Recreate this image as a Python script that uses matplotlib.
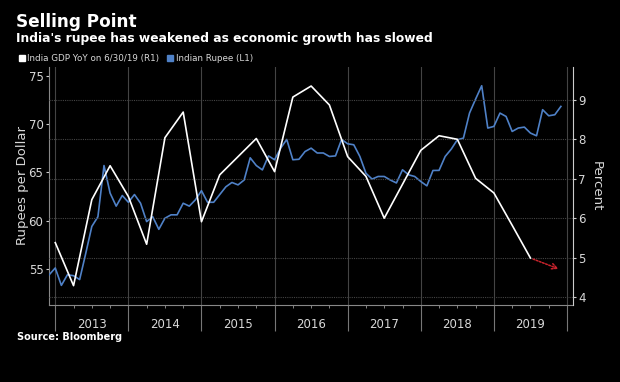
import matplotlib
matplotlib.use("Agg")
import matplotlib.pyplot as plt
import matplotlib.transforms as mtransforms
from matplotlib.lines import Line2D
import numpy as np

# Indian rupee per dollar, monthly from Nov 2012 to Nov 2019 (left axis)
rupee = [54.4, 55.1, 53.3, 54.4, 54.3, 53.9, 56.6, 59.4, 60.4, 65.7, 62.85, 61.5,
         62.6, 61.9, 62.7, 61.8, 59.9, 60.4, 59.1, 60.25, 60.6, 60.6, 61.8, 61.5,
         62.15, 63.1, 61.9, 61.9, 62.7, 63.5, 63.95, 63.7, 64.2, 66.5, 65.7, 65.25,
         66.7, 66.3, 67.5, 68.4, 66.3, 66.35, 67.15, 67.5, 67.0, 67.0, 66.64, 66.7,
         68.4, 67.95, 67.85, 66.64, 64.9, 64.3, 64.57, 64.57, 64.2, 63.9, 65.26, 64.74,
         64.57, 64.05, 63.6, 65.19, 65.2, 66.64, 67.4, 68.37, 68.54, 71.13, 72.58, 73.96,
         69.58, 69.75, 71.13, 70.78, 69.23, 69.58, 69.68, 69.06, 68.78, 71.48, 70.85, 70.96,
         71.82]
rupee_dates = 2012 + (11 + np.arange(len(rupee))) / 12

# India GDP YoY, quarterly, Q4 2012 to Q2 2019 (right axis)
gdp = [5.38, 4.29, 6.47, 7.33, 6.55, 5.34, 8.04, 8.69, 5.91, 7.10, 7.56, 8.02,
       7.18, 9.07, 9.35, 8.87, 7.56, 7.06, 6.00, 6.86, 7.72, 8.09, 8.00, 7.01,
       6.64, 5.82, 4.99]
gdp_dates = 2013 + np.arange(len(gdp)) / 4

arrow_end = (2019.92, 4.69)
years = [2013, 2014, 2015, 2016, 2017, 2018, 2019]

bg = "black"
grid_col = "#444444"
tick_col = "#d8d8d8"
blue = "#4f81c7"

fig = plt.figure(figsize=(6.2, 3.82), dpi=100, facecolor=bg)
ax1 = fig.add_axes([0.079, 0.2016, 0.8447, 0.6238], facecolor=bg)
ax2 = ax1.twinx()

ax1.plot(rupee_dates, rupee, color=blue, lw=1.2, zorder=3)
ax2.plot(gdp_dates, gdp, color="white", lw=1.2, zorder=3)
ax2.annotate("", xy=arrow_end, xytext=(gdp_dates[-1], gdp[-1]),
             arrowprops=dict(arrowstyle="->", color="#c8232c", lw=1.1, ls=(0, (1.2, 1.0))))

ax1.set_xlim(2012.914, 2020.078)
ax1.set_ylim(51.27, 75.93)
ax2.set_ylim(3.80, 9.84)

ax1.set_yticks([55, 60, 65, 70, 75])
ax2.set_yticks([4, 5, 6, 7, 8, 9])
ax1.set_xticks(range(2013, 2021))
ax1.set_xticks(np.arange(2013, 2020.01, 0.25), minor=True)
ax1.set_xticklabels([])

ax1.tick_params(axis="x", which="major", length=19, width=0.8, color="#777777", direction="out")
ax1.tick_params(axis="x", which="minor", length=2.5, width=0.6, color="#999999", direction="out")
ax1.tick_params(axis="y", length=2.5, width=0.8, color="#cccccc", labelcolor=tick_col,
                labelsize=8.5, pad=1.5)
ax2.tick_params(axis="y", length=2.5, width=0.8, color="#cccccc", labelcolor=tick_col,
                labelsize=8.5, pad=1.5)

ax1.grid(axis="x", which="major", color=grid_col, lw=0.8, ls="-")
ax2.grid(axis="y", color=grid_col, lw=0.8, ls=(0, (1, 1)))
ax1.set_axisbelow(True)

for a in (ax1, ax2):
    for s in a.spines.values():
        s.set_visible(False)
ax1.spines["left"].set_visible(True)
ax1.spines["left"].set_color("#888888")
ax1.spines["bottom"].set_visible(True)
ax1.spines["bottom"].set_color("#888888")
ax2.spines["right"].set_visible(True)
ax2.spines["right"].set_color("#cccccc")

trans = mtransforms.blended_transform_factory(ax1.transData, ax1.transAxes)
for y in years:
    ax1.text(y + 0.5, -0.081, str(y), transform=trans, ha="center", va="center",
             color=tick_col, fontsize=8.5)

ax1.set_ylabel("Rupees per Dollar", color=tick_col, fontsize=9.5, labelpad=0)
ax2.set_ylabel("Percent", color=tick_col, fontsize=9.5, rotation=270, labelpad=12)

fig.text(16 / 620, 1 - 26.7 / 382, "Selling Point", color="white", fontsize=12.2,
         fontweight="bold", va="baseline")
fig.text(16 / 620, 1 - 41.7 / 382, "India's rupee has weakened as economic growth has slowed",
         color="white", fontsize=8.8, fontweight="bold", va="baseline")

handles = [Line2D([], [], ls="none", marker="s", markersize=4.5, color="white"),
           Line2D([], [], ls="none", marker="s", markersize=4.5, color=blue)]
leg = fig.legend(handles, ["India GDP YoY on 6/30/19 (R1)", "Indian Rupee (L1)"],
                 loc="center left", bbox_to_anchor=(19 / 620, 1 - 58.3 / 382), ncol=2,
                 frameon=False, fontsize=6.3, handlelength=0.6, handletextpad=0.3,
                 columnspacing=1.0, borderpad=0, borderaxespad=0)
for t in leg.get_texts():
    t.set_color(tick_col)

fig.text(17 / 620, 1 - 337.3 / 382, "Source: Bloomberg", color="white", fontsize=7,
         fontweight="bold", va="center")

fig.savefig("out.png", dpi=100, facecolor=bg)
